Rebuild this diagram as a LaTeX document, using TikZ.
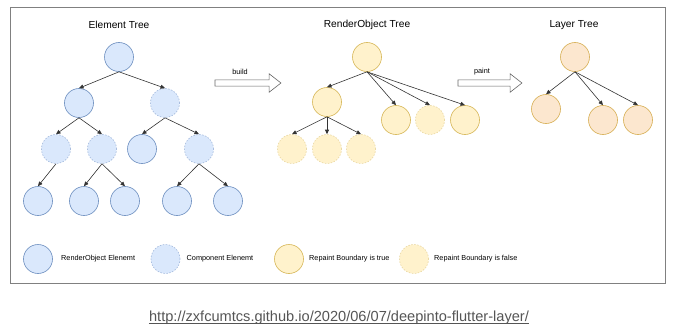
\documentclass[tikz,border=0pt]{standalone}
\usepackage{fontspec}
\setmainfont{Liberation Sans}
\usetikzlibrary{arrows.meta,shapes.arrows}

\definecolor{elemfill}{HTML}{DAE8FC}
\definecolor{elemline}{HTML}{6C8EBF}
\definecolor{elemdash}{HTML}{A3B9DC}
\definecolor{rofill}{HTML}{FFF2CC}
\definecolor{roline}{HTML}{D6B656}
\definecolor{rodash}{HTML}{E9D7A0}
\definecolor{layfill}{HTML}{FCE7CF}
\definecolor{layline}{HTML}{D6AE52}
\definecolor{urlgray}{HTML}{555555}

\begin{document}
\begin{tikzpicture}[x=1pt,y=-1pt]
		\tikzset{treenode/.style = {shape=circle, minimum size=29pt, inner sep=0pt, line width=0.6pt},
			elem/.style = {treenode, draw=elemline, fill=elemfill},
			comp/.style = {treenode, draw=elemdash, fill=elemfill, dash pattern=on 1.5pt off 1.5pt},
			rtrue/.style = {treenode, draw=roline, fill=rofill},
			rfalse/.style = {treenode, draw=rodash, fill=rofill, dash pattern=on 1.5pt off 1.5pt},
			layer/.style = {treenode, draw=layline, fill=layfill},
			edge/.style = {draw=black!80, line width=0.6pt, -{Triangle[length=4.5pt,width=4pt]}},
			title/.style = {font=\fontsize{10.2}{12}\selectfont},
			small/.style = {font=\fontsize{7.3}{9}\selectfont},
			bigarrow/.style = {single arrow, draw=black!60, fill=white, line width=0.6pt, inner sep=2.75pt,
				single arrow head extend=6.25pt, single arrow tip angle=76, minimum height=#1}}

		\useasboundingbox (0,0) rectangle (680,329);
		\draw[black!50, line width=0.8pt] (10,7) rectangle (665,283);

		\node[title] (T_E) at (119,25) {Element Tree};
		\node[title] (T_R) at (367,25) {RenderObject Tree};
		\node[title] (T_L) at (574,25) {Layer Tree};

		\node[elem] (E_1) at (119,57) {};
		\node[elem] (E_2) at (79,103) {};
		\node[comp] (E_3) at (165,103) {};
		\node[comp] (E_4) at (56,149) {};
		\node[comp] (E_5) at (102,149) {};
		\node[elem] (E_6) at (142,149) {};
		\node[comp] (E_7) at (199,149) {};
		\node[elem] (E_8) at (38,201) {};
		\node[elem] (E_9) at (84,201) {};
		\node[elem] (E_10) at (125,201) {};
		\node[elem] (E_11) at (177,201) {};
		\node[elem] (E_12) at (228,201) {};

		\draw[edge] (E_1.south)--(E_2.north);
		\draw[edge] (E_1.south)--(E_3.north);
		\draw[edge] (E_2.south)--(E_4.north);
		\draw[edge] (E_2.south)--(E_5.north);
		\draw[edge] (E_3.south)--(E_6.north);
		\draw[edge] (E_3.south)--(E_7.north);
		\draw[edge] (E_4.south)--(E_8.north);
		\draw[edge] (E_5.south)--(E_9.north);
		\draw[edge] (E_5.south)--(E_10.north);
		\draw[edge] (E_7.south)--(E_11.north);
		\draw[edge] (E_7.south)--(E_12.north);

		\node[bigarrow=66pt] (build) at (246,83) {};
		\node[small] (build_t) at (240,71.5) {build};

		\node[rtrue] (R_1) at (367,57) {};
		\node[rtrue] (R_2) at (327,102) {};
		\node[rtrue] (R_3) at (396,120) {};
		\node[rfalse] (R_4) at (430,120) {};
		\node[rtrue] (R_5) at (465,120) {};
		\node[rfalse] (R_6) at (292,149) {};
		\node[rfalse] (R_7) at (327,149) {};
		\node[rfalse] (R_8) at (361,149) {};

		\draw[edge] (R_1.south)--(R_2.north);
		\draw[edge] (R_1.south)--(R_3.north);
		\draw[edge] (R_1.south)--(R_4.north);
		\draw[edge] (R_1.south)--(R_5.north);
		\draw[edge] (R_2.south)--(R_6.north);
		\draw[edge] (R_2.south)--(R_7.north);
		\draw[edge] (R_2.south)--(R_8.north);

		\node[bigarrow=64pt] (paint) at (488,83) {};
		\node[small] (paint_t) at (482,71.5) {paint};

		\node[layer] (L_1) at (575,57) {};
		\node[layer] (L_2) at (546,109) {};
		\node[layer] (L_3) at (603,120) {};
		\node[layer] (L_4) at (638,120) {};

		\draw[edge] (L_1.south)--(L_2.north);
		\draw[edge] (L_1.south)--(L_3.north);
		\draw[edge] (L_1.south)--(L_4.north);

		\node[elem] (K_1) at (38,259) {};
		\node[small, anchor=west, inner sep=0pt] (K_1t) at (61,259) {RenderObject Elenemt};
		\node[comp] (K_2) at (165.5,259) {};
		\node[small, anchor=west, inner sep=0pt] (K_2t) at (186.5,259) {Component Elenemt};
		\node[rtrue] (K_3) at (289,259) {};
		\node[small, anchor=west, inner sep=0pt] (K_3t) at (309,259) {Repaint Boundary is true};
		\node[rfalse] (K_4) at (414,259) {};
		\node[small, anchor=west, inner sep=0pt] (K_4t) at (434,259) {Repaint Boundary is false};

		\node[anchor=base, inner sep=0pt, text=urlgray, font=\fontsize{14.6}{17}\selectfont] (url) at (339,321)
			{http://zxfcumtcs.github.io/2020/06/07/deepinto-flutter-layer/};
		\draw[urlgray, line width=0.6pt] ([yshift=-1.8pt]url.base west)--([yshift=-1.8pt]url.base east);

	\end{tikzpicture}
\end{document}
